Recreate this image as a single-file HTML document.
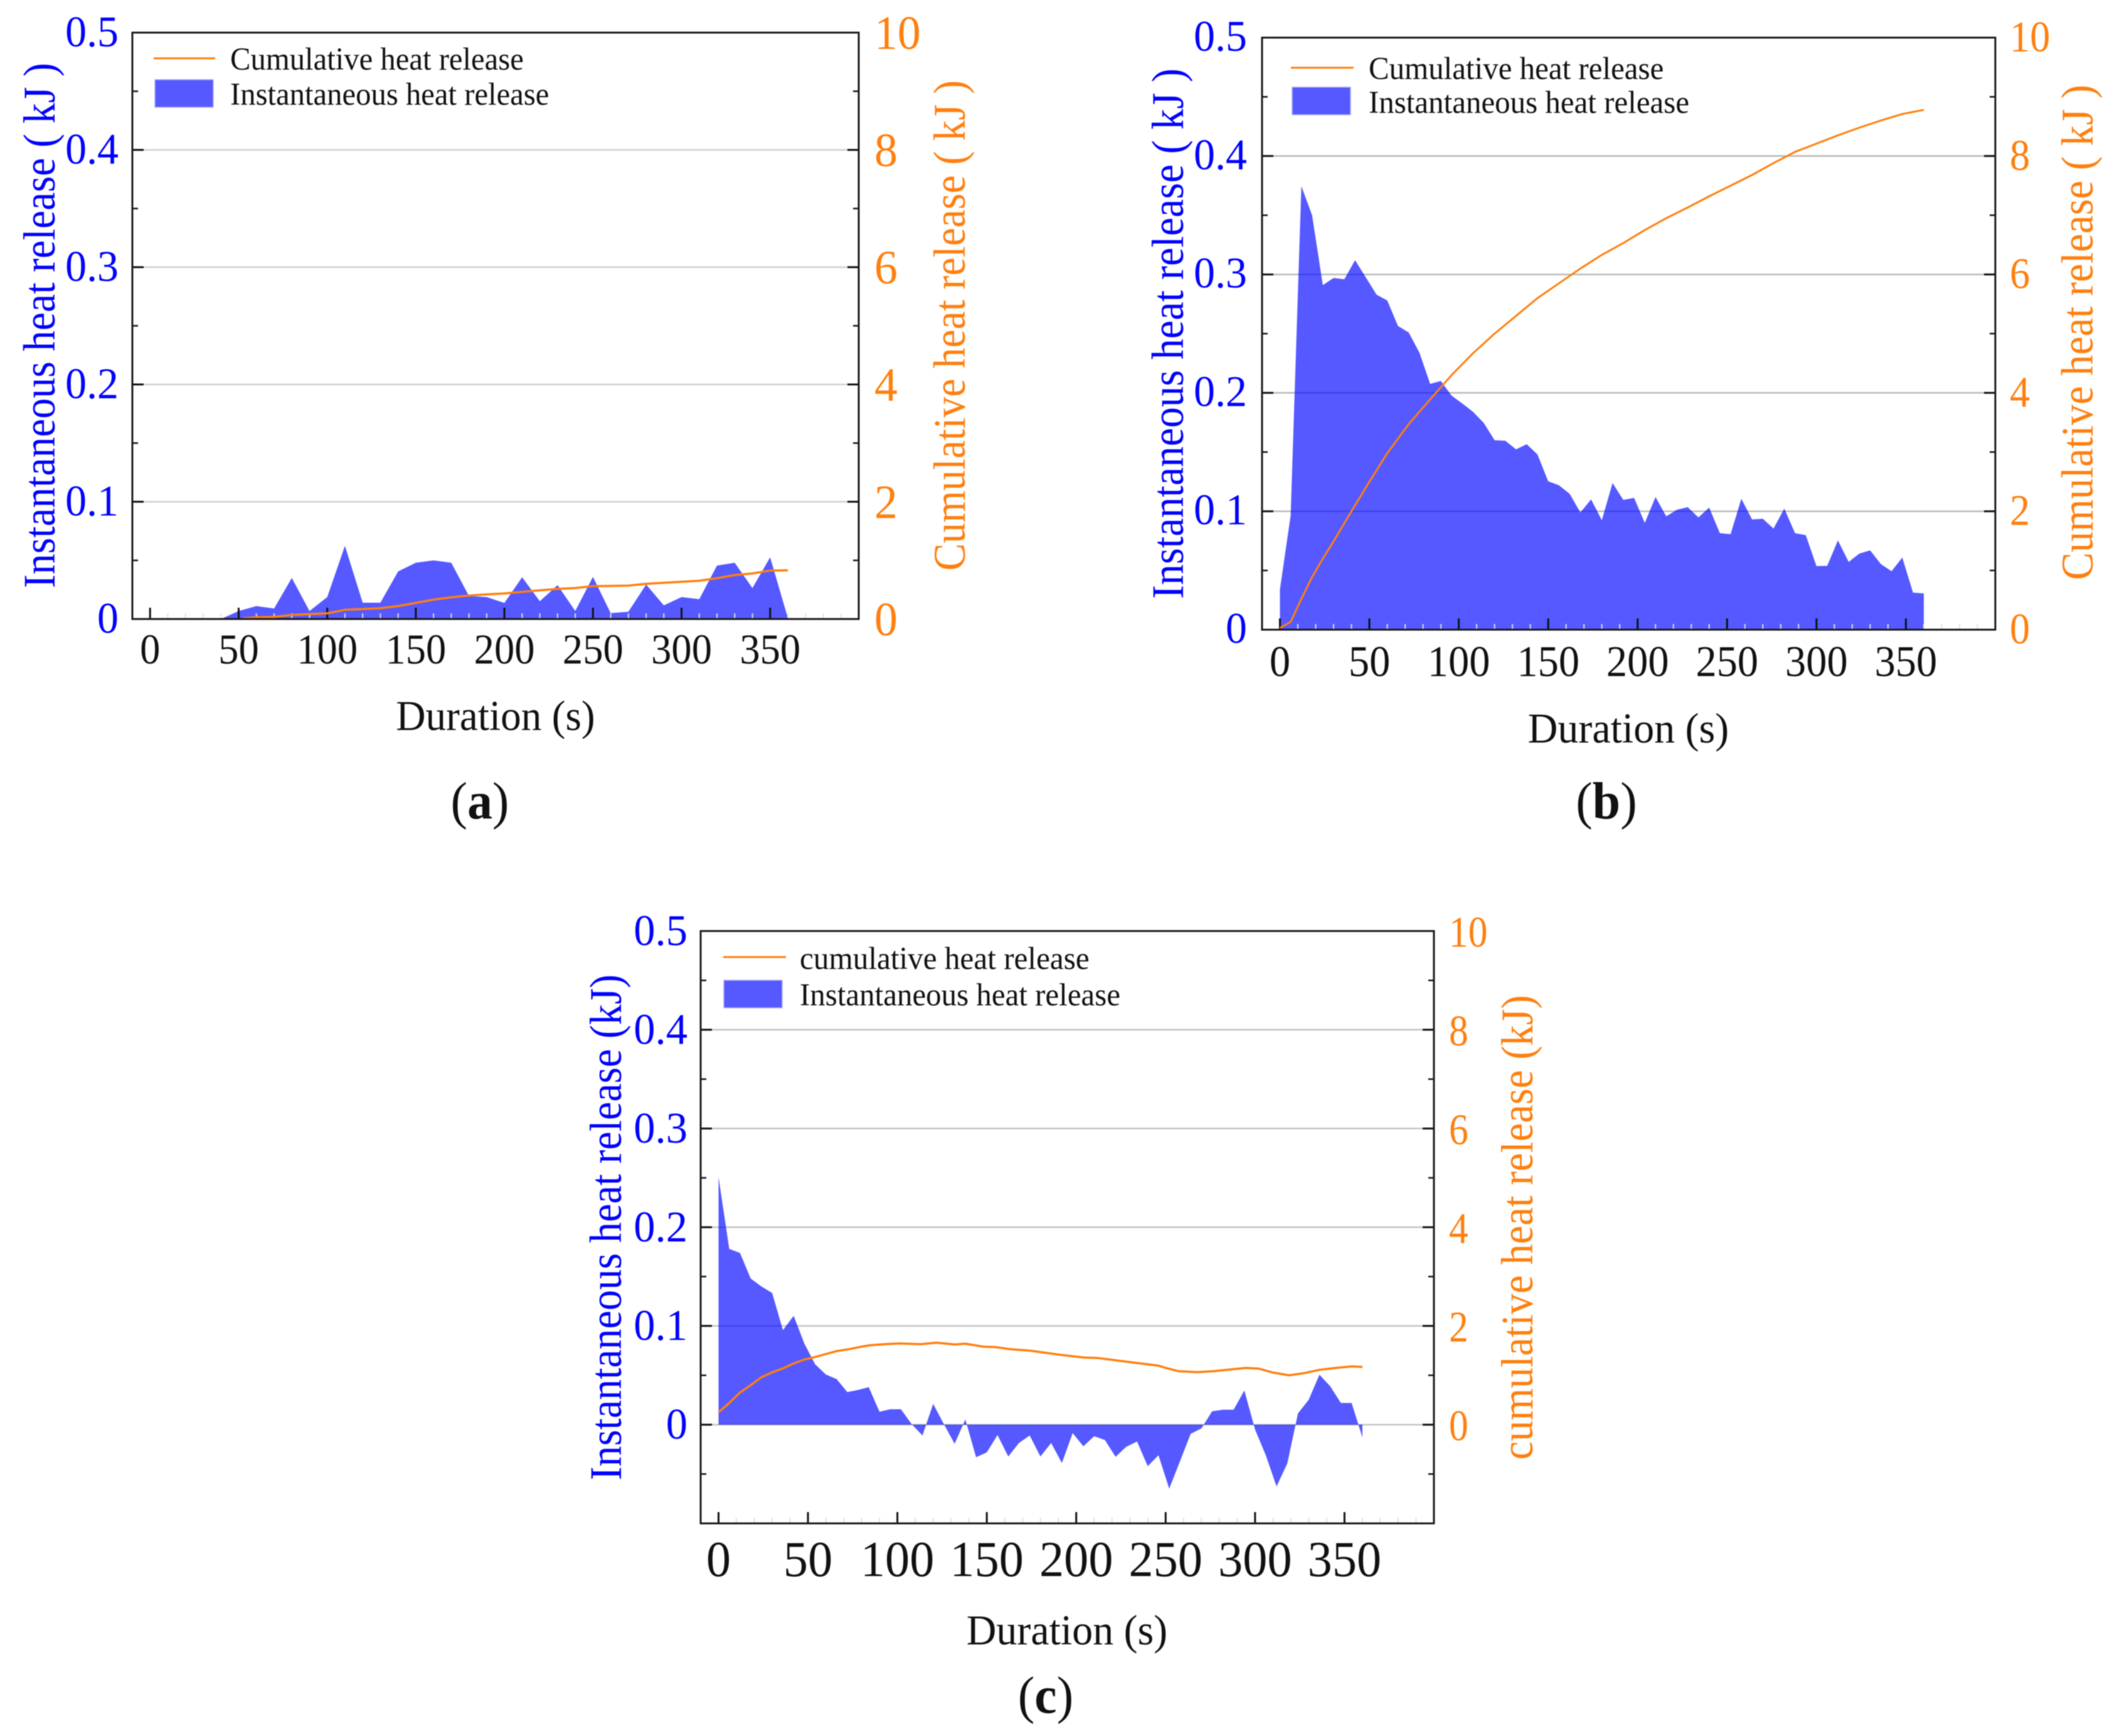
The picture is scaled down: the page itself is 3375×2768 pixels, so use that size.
<!DOCTYPE html>
<html lang="en">
<head>
<meta charset="utf-8">
<title>Instantaneous and cumulative heat release</title>
<style>
html,body{margin:0;padding:0;background:#fff;}
svg{display:block;filter:blur(0.7px);}
text{font-family:"Liberation Serif",serif;}
.b{fill:#0000ff;}
.o{fill:#ff7f0e;}
.k{fill:#111;}
</style>
</head>
<body>
<svg xmlns="http://www.w3.org/2000/svg" width="3375" height="2768" viewBox="0 0 3375 2768">
<rect width="3375" height="2768" fill="#fff"/>

<g id="panel-a"></g>
<g id="panel-b"></g>
<g id="panel-c"></g>

<!-- Panel a text -->
<text class="b" font-size="72" text-anchor="middle" transform="translate(87,519) rotate(-90) scale(.913,1)">Instantaneous heat release ( kJ )</text>
<text class="o" font-size="72" text-anchor="middle" transform="translate(1538,519) rotate(-90) scale(.912,1)">Cumulative heat release ( kJ )</text>
<text class="k" font-size="68" text-anchor="middle" transform="translate(790,1164) scale(.96,1)">Duration (s)</text>
<text class="k" font-size="84" text-anchor="middle" transform="translate(765,1305) scale(.95,1)">(<tspan font-weight="bold">a</tspan>)</text>
<line x1="245" y1="93" x2="343" y2="93" stroke="#ff7f0e" stroke-width="3"/>
<text class="k" font-size="51" transform="translate(367,111) scale(.955,1)">Cumulative heat release</text>
<rect x="247" y="127" width="93" height="44" fill="#5559ff" stroke="#aab0f5" stroke-width="1.5"/>
<text class="k" font-size="51" transform="translate(367,167) scale(.955,1)">Instantaneous heat release</text>

<!-- Panel b text -->
<text class="b" font-size="72" text-anchor="middle" transform="translate(1886,532) rotate(-90) scale(.922,1)">Instantaneous heat release ( kJ )</text>
<text class="o" font-size="72" text-anchor="middle" transform="translate(3336,530) rotate(-90) scale(.921,1)">Cumulative heat release ( kJ )</text>
<text class="k" font-size="68" text-anchor="middle" transform="translate(2596,1184) scale(.97,1)">Duration (s)</text>
<text class="k" font-size="84" text-anchor="middle" transform="translate(2561,1305) scale(.95,1)">(<tspan font-weight="bold">b</tspan>)</text>
<line x1="2058" y1="108" x2="2158" y2="108" stroke="#ff7f0e" stroke-width="3"/>
<text class="k" font-size="51" transform="translate(2182,126) scale(.96,1)">Cumulative heat release</text>
<rect x="2060" y="139" width="93" height="44" fill="#5559ff" stroke="#aab0f5" stroke-width="1.5"/>
<text class="k" font-size="51" transform="translate(2182,180) scale(.96,1)">Instantaneous heat release</text>

<!-- Panel c text -->
<text class="b" font-size="72" text-anchor="middle" transform="translate(990,1957) rotate(-90) scale(.915,1)">Instantaneous heat release (kJ)</text>
<text class="o" font-size="72" text-anchor="middle" transform="translate(2443,1957) rotate(-90) scale(.92,1)">cumulative heat release (kJ)</text>
<text class="k" font-size="68" text-anchor="middle" transform="translate(1701,2622) scale(.97,1)">Duration (s)</text>
<text class="k" font-size="84" text-anchor="middle" transform="translate(1667,2731) scale(.95,1)">(<tspan font-weight="bold">c</tspan>)</text>
<line x1="1153" y1="1526" x2="1253" y2="1526" stroke="#ff7f0e" stroke-width="3"/>
<text class="k" font-size="51" transform="translate(1275,1545) scale(.965,1)">cumulative heat release</text>
<rect x="1154" y="1563" width="93" height="44" fill="#5559ff" stroke="#aab0f5" stroke-width="1.5"/>
<text class="k" font-size="51" transform="translate(1275,1603) scale(.96,1)">Instantaneous heat release</text>

<script>
// ---------- shared tick values ----------
const xTickValues = [0, 50, 100, 150, 200, 250, 300, 350];
const xMinorTickValues = [-10, 10, 20, 30, 40, 60, 70, 80, 90, 110, 120, 130, 140, 160, 170, 180, 190, 210, 220, 230, 240, 260, 270, 280, 290, 310, 320, 330, 340, 360, 370, 380, 390];
const leftTickValues = [0, 0.1, 0.2, 0.3, 0.4, 0.5];
const leftTickLabels = ['0', '0.1', '0.2', '0.3', '0.4', '0.5'];
const leftMinorTickValues = [0.05, 0.15, 0.25, 0.35, 0.45];
const leftMinorTickValuesC = [-0.05, 0.05, 0.15, 0.25, 0.35, 0.45];
const rightTickValues = [0, 2, 4, 6, 8, 10];
const gridValuesAB = [0.1, 0.2, 0.3, 0.4];
const gridValuesC = [0, 0.1, 0.2, 0.3, 0.4];

// ---------- panel a ----------
const aInstantTimes = [0, 10, 20, 30, 40, 50, 60, 70, 80, 90, 100, 110, 120, 130, 140, 150, 160, 170, 180, 190, 200, 210, 220, 230, 240, 250, 260, 270, 280, 290, 300, 310, 320, 330, 340, 350, 360];
const aInstantValues = [0, 0, 0, 0, 0, 0.0068, 0.011, 0.009, 0.035, 0.0068, 0.0187, 0.0624, 0.0139, 0.0139, 0.0406, 0.048, 0.05, 0.048, 0.0196, 0.0187, 0.0137, 0.0356, 0.0152, 0.0289, 0.0068, 0.036, 0.005, 0.0062, 0.0294, 0.0116, 0.0187, 0.0169, 0.0455, 0.048, 0.0264, 0.0526, 0.001];
const aCumTimes = [52, 60, 70, 80, 90, 100, 110, 120, 130, 140, 150, 160, 170, 180, 190, 200, 210, 220, 230, 240, 250, 260, 270, 280, 290, 300, 310, 320, 330, 340, 350, 360];
const aCumValues = [0.01, 0.03, 0.036, 0.07, 0.085, 0.096, 0.157, 0.17, 0.185, 0.22, 0.275, 0.33, 0.37, 0.4, 0.42, 0.435, 0.463, 0.49, 0.513, 0.528, 0.56, 0.565, 0.57, 0.6, 0.618, 0.635, 0.652, 0.695, 0.75, 0.777, 0.827, 0.83];

// ---------- panel b ----------
const bInstantTimes = [0, 6, 12, 18, 24, 30, 36, 42, 48, 54, 60, 66, 72, 78, 84, 90, 96, 102, 108, 114, 120, 126, 132, 138, 144, 150, 156, 162, 168, 174, 180, 186, 192, 198, 204, 210, 216, 222, 228, 234, 240, 246, 252, 258, 264, 270, 276, 282, 288, 294, 300, 306, 312, 318, 324, 330, 336, 342, 348, 354, 360];
const bInstantValues = [0.034, 0.0964, 0.3745, 0.35, 0.291, 0.297, 0.296, 0.312, 0.2975, 0.283, 0.278, 0.2565, 0.251, 0.234, 0.2076, 0.21, 0.1976, 0.191, 0.184, 0.1745, 0.16, 0.1596, 0.1523, 0.1566, 0.148, 0.1253, 0.122, 0.1147, 0.099, 0.11, 0.0924, 0.1239, 0.1096, 0.1113, 0.0902, 0.112, 0.0957, 0.1013, 0.1035, 0.0948, 0.1031, 0.0815, 0.0806, 0.1106, 0.0931, 0.0937, 0.0854, 0.1022, 0.0815, 0.0798, 0.0537, 0.0539, 0.0754, 0.0572, 0.0643, 0.067, 0.0554, 0.0494, 0.0609, 0.0313, 0.0306];
const bCumTimes = [0, 6, 12, 18, 24, 30, 36, 48, 60, 72, 84, 96, 108, 120, 132, 144, 156, 168, 180, 192, 204, 216, 228, 240, 252, 264, 276, 288, 300, 312, 324, 336, 348, 360];
const bCumValues = [0.03, 0.13, 0.52, 0.89, 1.2, 1.49, 1.8, 2.4, 2.98, 3.47, 3.89, 4.3, 4.67, 5.0, 5.3, 5.6, 5.85, 6.1, 6.33, 6.53, 6.75, 6.95, 7.13, 7.32, 7.5, 7.68, 7.88, 8.07, 8.21, 8.35, 8.48, 8.6, 8.71, 8.78];

// ---------- panel c ----------
const cInstantTimes = [0, 6, 12, 18, 24, 30, 36, 42, 48, 54, 60, 66, 72, 78, 84, 90, 96, 102, 108, 114, 120, 126, 132, 138, 144, 150, 156, 162, 168, 174, 180, 186, 192, 198, 204, 210, 216, 222, 228, 234, 240, 246, 252, 258, 264, 270, 276, 282, 288, 294, 300, 306, 312, 318, 324, 330, 336, 342, 348, 354, 360];
const cInstantValues = [0.2508, 0.178, 0.174, 0.148, 0.14, 0.1334, 0.0957, 0.1103, 0.082, 0.0612, 0.0508, 0.0462, 0.033, 0.0352, 0.038, 0.0131, 0.0156, 0.0156, 0.0005, -0.011, 0.021, 0.0005, -0.0194, 0.0053, -0.033, -0.028, -0.0105, -0.0323, -0.0185, -0.011, -0.0323, -0.0185, -0.0389, -0.0085, -0.0219, -0.0117, -0.0155, -0.0326, -0.0224, -0.0171, -0.042, -0.031, -0.0648, -0.0372, -0.0093, -0.0038, 0.0135, 0.0152, 0.0152, 0.0347, -0.005, -0.031, -0.0626, -0.0394, 0.0114, 0.0252, 0.0506, 0.0389, 0.022, 0.022, -0.0129];
const cCumTimes = [0, 6, 12, 18, 24, 30, 36, 42, 48, 53, 60, 66, 73, 80, 85, 93, 101, 113, 122, 132, 138, 148, 155, 163, 174, 190, 204, 212, 223, 235, 246, 250, 257, 268, 277, 287, 295, 302, 310, 319, 327, 336, 345, 354, 360];
const cCumValues = [0.25, 0.44, 0.65, 0.8, 0.96, 1.06, 1.14, 1.24, 1.32, 1.36, 1.43, 1.49, 1.53, 1.58, 1.61, 1.63, 1.645, 1.63, 1.66, 1.625, 1.64, 1.58, 1.57, 1.53, 1.5, 1.42, 1.36, 1.35, 1.3, 1.245, 1.195, 1.15, 1.085, 1.063, 1.085, 1.12, 1.15, 1.135, 1.055, 1.0, 1.04, 1.11, 1.15, 1.18, 1.17];

const NS = 'http://www.w3.org/2000/svg';

function makeEl(tag, parent, name) {
  const el = document.createElementNS(NS, tag);
  
  
  parent.appendChild(el);
  return el;
}

function drawLine(parent, name, x1, y1, x2, y2, color, width) {
  const l = makeEl('line', parent, name);
  l.setAttribute('x1', x1);
  l.setAttribute('y1', y1);
  l.setAttribute('x2', x2);
  l.setAttribute('y2', y2);
  l.setAttribute('stroke', color);
  l.setAttribute('stroke-width', width);
}

function drawLabel(parent, name, str, x, y, size, sx, anchor, cls) {
  const t = makeEl('text', parent, name);
  t.setAttribute('transform', 'translate(' + x + ',' + y + ') scale(' + sx + ',1)');
  t.setAttribute('font-size', size);
  t.setAttribute('text-anchor', anchor);
  t.setAttribute('class', cls);
  t.textContent = str;
}

function drawPanel(id, cfg, instTimes, instValues, cumTimes, cumValues, gridValues, leftMinor) {
  const g = document.getElementById(id);
  const f = cfg.frame;
  const xScale = t => f.left + (t - cfg.xDomain[0]) / (cfg.xDomain[1] - cfg.xDomain[0]) * (f.right - f.left);
  const yLeft = v => f.bottom - (v - cfg.leftDomain[0]) / (cfg.leftDomain[1] - cfg.leftDomain[0]) * (f.bottom - f.top);
  const yRight = v => f.bottom - (v - cfg.rightDomain[0]) / (cfg.rightDomain[1] - cfg.rightDomain[0]) * (f.bottom - f.top);

  // grid
  gridValues.forEach(v => {
    drawLine(g, 'gridline', f.left, yLeft(v), f.right, yLeft(v), cfg.gridColor, 2.5);
  });

  // instantaneous area
  const area = makeEl('polygon', g, 'instantaneous-heat-release-area');
  const pts = instTimes.map((t, i) => xScale(t).toFixed(1) + ',' + yLeft(instValues[i]).toFixed(1));
  pts.unshift(xScale(instTimes[0]).toFixed(1) + ',' + yLeft(0).toFixed(1));
  pts.push(xScale(instTimes[instTimes.length - 1]).toFixed(1) + ',' + yLeft(0).toFixed(1));
  area.setAttribute('points', pts.join(' '));
  area.setAttribute('fill', '#0006ff');
  area.setAttribute('fill-opacity', '0.665');

  // minor x ticks
  xMinorTickValues.forEach(t => {
    drawLine(g, 'x-minor-tick', xScale(t), f.bottom, xScale(t), f.bottom - 9, '#dfe0f4', 2);
  });
  // major x ticks and labels
  xTickValues.forEach(t => {
    drawLine(g, 'x-major-tick', xScale(t), f.bottom, xScale(t), f.bottom - 18, '#111', 3);
    drawLabel(g, 'x-tick-label', String(t), xScale(t), cfg.xLabelBaseline, cfg.xLabelSize, cfg.xLabelSx, 'middle', 'k');
  });

  // left and right y ticks
  leftTickValues.forEach((v, i) => {
    drawLine(g, 'left-major-tick', f.left, yLeft(v), f.left + 18, yLeft(v), '#111', 3);
    drawLine(g, 'right-major-tick', f.right, yLeft(v), f.right - 18, yLeft(v), '#111', 3);
    drawLabel(g, 'left-tick-label', leftTickLabels[i], cfg.leftLabelX, yLeft(v) + cfg.leftLabelDy, cfg.leftLabelSize, cfg.leftLabelSx, 'end', 'b');
  });
  leftMinor.forEach(v => {
    drawLine(g, 'left-minor-tick', f.left, yLeft(v), f.left + 9, yLeft(v), '#111', 2.5);
    drawLine(g, 'right-minor-tick', f.right, yLeft(v), f.right - 9, yLeft(v), '#111', 2.5);
  });
  rightTickValues.forEach(v => {
    drawLabel(g, 'right-tick-label', String(v), cfg.rightLabelX, yRight(v) + cfg.rightLabelDy, cfg.rightLabelSize, cfg.rightLabelSx, 'start', 'o');
  });

  // cumulative line
  const line = makeEl('polyline', g, 'cumulative-heat-release-line');
  line.setAttribute('points', cumTimes.map((t, i) => xScale(t).toFixed(1) + ',' + yRight(cumValues[i]).toFixed(1)).join(' '));
  line.setAttribute('fill', 'none');
  line.setAttribute('stroke', '#ff7f0e');
  line.setAttribute('stroke-width', cfg.lineWidth);
  line.setAttribute('stroke-linejoin', 'round');

  // frame
  const box = makeEl('rect', g, 'plot-frame');
  box.setAttribute('x', f.left);
  box.setAttribute('y', f.top);
  box.setAttribute('width', f.right - f.left);
  box.setAttribute('height', f.bottom - f.top);
  box.setAttribute('fill', 'none');
  box.setAttribute('stroke', '#1a1a1a');
  box.setAttribute('stroke-width', 3);
}

drawPanel('panel-a', {
  frame: {left: 211, right: 1369, top: 52, bottom: 987},
  xDomain: [-10, 400], leftDomain: [0, 0.5], rightDomain: [0, 10],
  gridColor: '#cfcfcf', lineWidth: 3.5,
  xLabelBaseline: 1058, xLabelSize: 68, xLabelSx: 0.95,
  leftLabelX: 189, leftLabelDy: 22, leftLabelSize: 70, leftLabelSx: 0.97,
  rightLabelX: 1394, rightLabelDy: 26, rightLabelSize: 76, rightLabelSx: 0.97
}, aInstantTimes, aInstantValues, aCumTimes, aCumValues, gridValuesAB, leftMinorTickValues);

drawPanel('panel-b', {
  frame: {left: 2012, right: 3181, top: 60, bottom: 1004},
  xDomain: [-10, 400], leftDomain: [0, 0.5], rightDomain: [0, 10],
  gridColor: '#b9b9b9', lineWidth: 3,
  xLabelBaseline: 1078, xLabelSize: 70, xLabelSx: 0.95,
  leftLabelX: 1988, leftLabelDy: 21, leftLabelSize: 70, leftLabelSx: 0.97,
  rightLabelX: 3204, rightLabelDy: 22, rightLabelSize: 70, rightLabelSx: 0.92
}, bInstantTimes, bInstantValues, bCumTimes, bCumValues, gridValuesAB, leftMinorTickValues);

drawPanel('panel-c', {
  frame: {left: 1117, right: 2286, top: 1484.5, bottom: 2429},
  xDomain: [-10, 400], leftDomain: [-0.1, 0.5], rightDomain: [-2, 10],
  gridColor: '#c2c2c2', lineWidth: 3.5,
  xLabelBaseline: 2513, xLabelSize: 80, xLabelSx: 0.98,
  leftLabelX: 1096, leftLabelDy: 22.5, leftLabelSize: 70, leftLabelSx: 0.98,
  rightLabelX: 2310, rightLabelDy: 25, rightLabelSize: 70, rightLabelSx: 0.88
}, cInstantTimes, cInstantValues, cCumTimes, cCumValues, gridValuesC, leftMinorTickValuesC);
</script>
</svg>
</body>
</html>
